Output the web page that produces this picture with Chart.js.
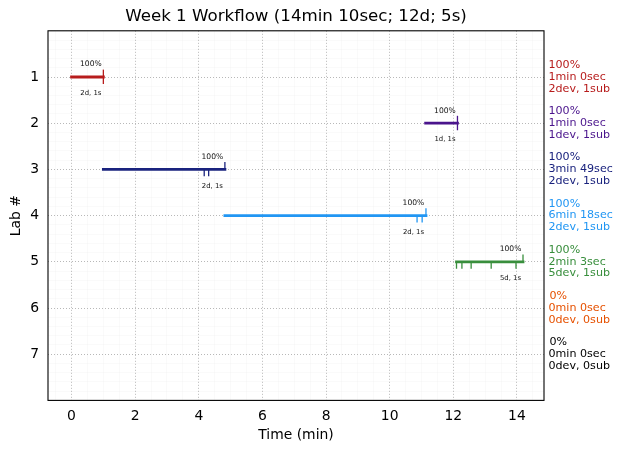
<!DOCTYPE html>
<html><head><meta charset="utf-8">
<style>html,body{margin:0;padding:0;background:#fff}canvas{display:block}</style>
<script src="https://cdn.jsdelivr.net/npm/chart.js@4/dist/chart.umd.min.js"></script>
</head><body><canvas id="c" width="623" height="453" style="width:623px;height:453px"></canvas>
<script>
const labs = [1, 2, 3, 4, 5, 6, 7];
const labColors = ['#b71c1c', '#4a148c', '#1a237e', '#2196f3', '#388e3c', '#e65100', '#000000'];
const barStarts = [0, 11.13, 1.0, 4.82, 12.1, null, null];
const barEnds = [1.0, 12.13, 4.82, 11.14, 14.19, null, null];
const devTicks = [[1.0], [12.13], [4.17, 4.31], [10.86, 11.02], [12.1, 12.27, 12.56, 13.19, 13.97], [], []];
const subTicks = [[1.0], [12.13], [4.82], [11.14], [14.19], [], []];
const pctTop = ['100%', '100%', '100%', '100%', '100%', null, null];
const subText = ['2d, 1s', '1d, 1s', '2d, 1s', '2d, 1s', '5d, 1s', null, null];
const sidePct = ['100%', '100%', '100%', '100%', '100%', '0%', '0%'];
const sideTime = ['1min 0sec', '1min 0sec', '3min 49sec', '6min 18sec', '2min 3sec', '0min 0sec', '0min 0sec'];
const sideCount = ['2dev, 1sub', '1dev, 1sub', '2dev, 1sub', '2dev, 1sub', '5dev, 1sub', '0dev, 0sub', '0dev, 0sub'];
const titleText = 'Week 1 Workflow (14min 10sec; 12d; 5s)';
const FONT = '"DejaVu Sans"';

const datasets = [];
const seg = (pts, color, width) => datasets.push({
  type: 'line', data: pts, parsing: false, borderColor: color, borderWidth: width,
  pointRadius: 0, borderCapStyle: width > 2 ? 'square' : 'butt', clip: false, tension: 0, animation: false
});
labs.forEach((lab, i) => {
  if (barStarts[i] === null) return;
  seg([{x: barStarts[i], y: lab}, {x: barEnds[i], y: lab}], labColors[i], 2.8);
  devTicks[i].forEach(t => seg([{x: t, y: lab}, {x: t, y: lab + 0.15}], labColors[i], 1.3));
  subTicks[i].forEach(t => seg([{x: t, y: lab}, {x: t, y: lab - 0.16}], labColors[i], 1.3));
});

const isInt = v => Math.abs(v - Math.round(v)) < 1e-6;
const isEven = v => isInt(v) && Math.round(v) % 2 === 0;
const MAJ = '#b8b8b8', MIN = 'rgba(0,0,0,0.02)';

const overlay = {
  id: 'overlay',
  afterDraw(ch) {
    const {ctx, chartArea: a, scales: {x, y}} = ch;
    ctx.save();
    ctx.strokeStyle = '#000'; ctx.lineWidth = 1.1;
    ctx.strokeRect(a.left, a.top, a.right - a.left, a.bottom - a.top);
    ctx.textBaseline = 'middle';
    ctx.fillStyle = '#000'; ctx.textAlign = 'center';
    ctx.font = '16.67px ' + FONT;
    ctx.fillText(titleText, (a.left + a.right) / 2, 16.5);
    labs.forEach((lab, i) => {
      const py = y.getPixelForValue(lab);
      if (pctTop[i]) {
        const px = x.getPixelForValue(barEnds[i]) - 12.5;
        ctx.fillStyle = '#111'; ctx.textAlign = 'center';
        ctx.font = '7.6px ' + FONT;
        ctx.fillText(pctTop[i], px, py - 12.5);
        ctx.font = '6.9px ' + FONT;
        ctx.fillText(subText[i], px, py + 16.5);
      }
      ctx.fillStyle = labColors[i]; ctx.textAlign = 'left';
      ctx.font = '11.1px ' + FONT;
      const sx = a.right + 4.5;
      if (sidePct[i] === '0%') ctx.fillText(sidePct[i], sx + 1, py - 11.8);
      else ctx.fillText(sidePct[i], sx, py - 11.8);
      ctx.fillText(sideTime[i], sx, py);
      ctx.fillText(sideCount[i], sx, py + 11.8);
    });
    ctx.restore();
  }
};

new Chart(document.getElementById('c'), {
  data: {datasets},
  plugins: [overlay],
  options: {
    responsive: false, animation: false, devicePixelRatio: 1,
    layout: {padding: {left: 0, right: 79, top: 30.8, bottom: 0}},
    plugins: {legend: {display: false}, tooltip: {enabled: false}, title: {display: false}},
    scales: {
      x: {
        type: 'linear', min: -0.74, max: 14.85, position: 'bottom',
        afterFit: s => { s.height = 52.6; },
        title: {display: true, text: 'Time (min)', color: '#000', font: {family: FONT, size: 13.9}, padding: {top: 0, bottom: 9}},
        ticks: {stepSize: 0.5, autoSkip: false, maxRotation: 0, includeBounds: false, color: '#000', padding: 8,
          font: {family: FONT, size: 13.9},
          callback: v => isEven(v) ? String(Math.round(v)) : ''},
        grid: {drawTicks: false, lineWidth: 1, color: c => isEven(c.tick.value) ? MAJ : MIN},
        border: {display: false, dash: c => isEven(c.tick.value) ? [1, 2] : []}
      },
      y: {
        type: 'linear', min: 0, max: 8, reverse: true,
        afterFit: s => { s.width = 48; },
        title: {display: true, text: 'Lab #', color: '#000', font: {family: FONT, size: 13.9}, padding: {top: 8, bottom: 0}},
        ticks: {stepSize: 0.2, autoSkip: false, includeBounds: false, color: '#000', padding: 9,
          font: {family: FONT, size: 13.9},
          callback: v => (isInt(v) && v >= 1 && v <= 7) ? String(Math.round(v)) : ''},
        grid: {drawTicks: false, lineWidth: 1, color: c => isInt(c.tick.value) && c.tick.value > 0 && c.tick.value < 8 ? MAJ : MIN},
        border: {display: false, dash: c => isInt(c.tick.value) ? [1, 2] : []}
      }
    }
  }
});
</script></body></html>
